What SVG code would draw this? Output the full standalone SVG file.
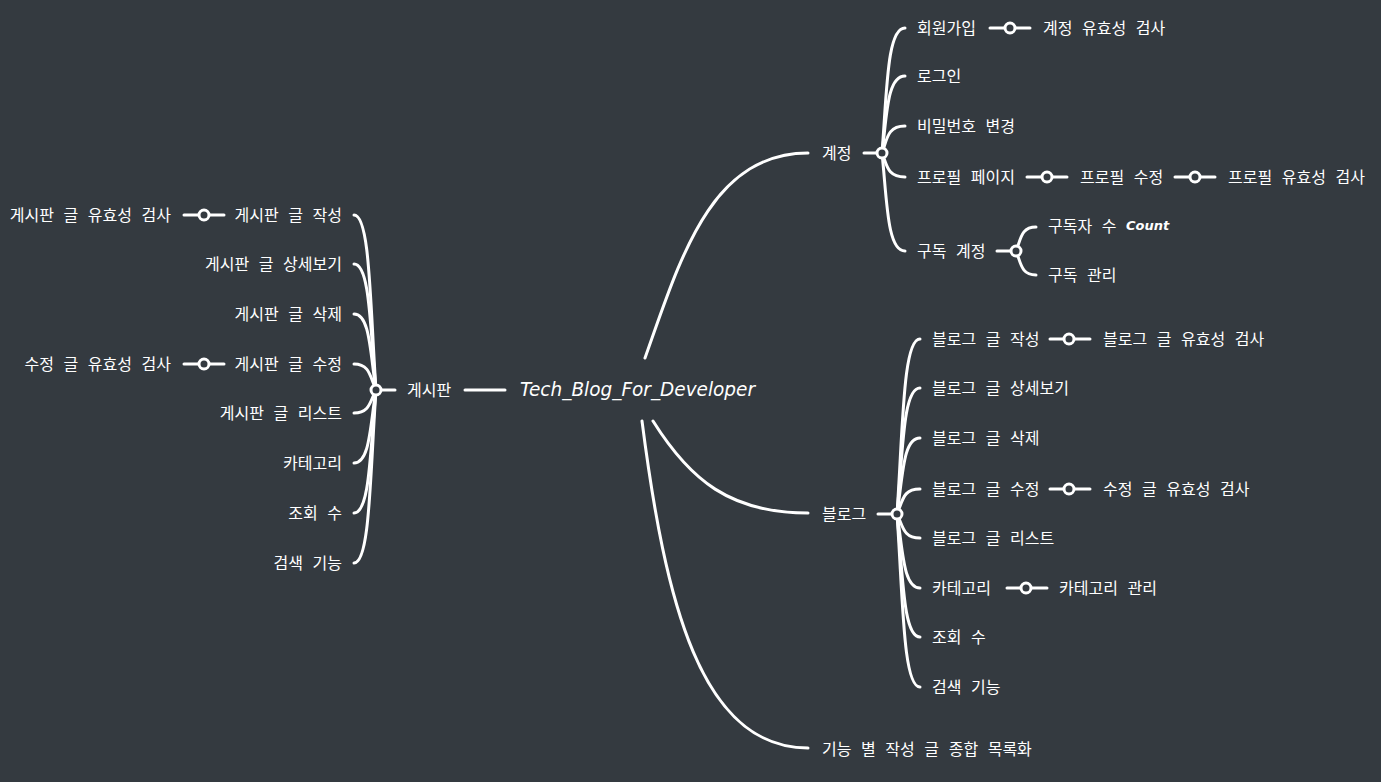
<svg xmlns="http://www.w3.org/2000/svg" width="1381" height="782" viewBox="0 0 1381 782">
<style>
.ln{fill:none;stroke:#fff;stroke-width:3;stroke-linecap:round}
.dot{fill:#343a40;stroke:#fff;stroke-width:3}
.t{font-family:"Noto Sans CJK KR","Noto Sans",sans-serif;font-size:16px;fill:#fff;word-spacing:6px;dominant-baseline:central}
.e{text-anchor:end}
.hand{font-family:"DejaVu Sans","Noto Sans",sans-serif;font-style:italic;fill:#fff}
</style>
<rect width="1381" height="782" fill="#343a40"/>
<g id="connectors">
<path class="ln" d="M465,390 L505,390"/>
<path class="ln" d="M645,358 C680,260 710,153 808,153"/>
<path class="ln" d="M653,421 C690,480 730,513 808,513"/>
<path class="ln" d="M642,421 C665,600 700,748 808,748"/>
<path class="ln" d="M864,153 L882,153"/>
<path class="ln" d="M882,153 C887,90 887,28 905,28"/>
<path class="ln" d="M882,153 C887,115 887,76 905,76"/>
<path class="ln" d="M882,153 C887,140 887,126 905,126"/>
<path class="ln" d="M882,153 C887,165 887,177 905,177"/>
<path class="ln" d="M882,153 C887,200 887,251 905,251"/>
<path class="ln" d="M990,28 L1030,28"/>
<path class="ln" d="M1027,177 L1067,177"/>
<path class="ln" d="M1175,177 L1215,177"/>
<path class="ln" d="M997,251 L1016,251"/>
<path class="ln" d="M1016,251 C1021,239 1021,227 1036,227"/>
<path class="ln" d="M1016,251 C1021,263 1021,275 1036,275"/>
<path class="ln" d="M878,514 L897,514"/>
<path class="ln" d="M897,514 C903,426 903,339 920,339"/>
<path class="ln" d="M897,514 C903,450 903,388 920,388"/>
<path class="ln" d="M897,514 C903,475 903,438 920,438"/>
<path class="ln" d="M897,514 C903,500 903,489 920,489"/>
<path class="ln" d="M897,514 C903,526 903,538 920,538"/>
<path class="ln" d="M897,514 C903,550 903,588 920,588"/>
<path class="ln" d="M897,514 C903,575 903,637 920,637"/>
<path class="ln" d="M897,514 C903,600 903,687 920,687"/>
<path class="ln" d="M1050,339 L1090,339"/>
<path class="ln" d="M1050,489 L1090,489"/>
<path class="ln" d="M1007,588 L1047,588"/>
<path class="ln" d="M376,390 L395,390"/>
<path class="ln" d="M376,390 C370,302 370,215 354,215"/>
<path class="ln" d="M376,390 C370,327 370,264 354,264"/>
<path class="ln" d="M376,390 C370,352 370,314 354,314"/>
<path class="ln" d="M376,390 C370,377 370,364 354,364"/>
<path class="ln" d="M376,390 C370,401 370,413 354,413"/>
<path class="ln" d="M376,390 C370,426 370,463 354,463"/>
<path class="ln" d="M376,390 C370,451 370,513 354,513"/>
<path class="ln" d="M376,390 C370,476 370,563 354,563"/>
<path class="ln" d="M184,215 L224,215"/>
<path class="ln" d="M184,364 L224,364"/>
</g>
<g id="root"><text class="hand" x="520" y="396" font-size="20" textLength="235" lengthAdjust="spacingAndGlyphs">Tech_Blog_For_Developer</text></g>
<g id="n-account">
<text class="t" x="822" y="152">계정</text>
<circle class="dot" cx="882" cy="153" r="5"/>
</g>
<g id="n-signup"><text class="t" x="917" y="27">회원가입</text><circle class="dot" cx="1010" cy="28" r="5"/></g>
<g id="n-signup-valid"><text class="t" x="1043" y="27">계정 유효성 검사</text></g>
<g id="n-login"><text class="t" x="917" y="75">로그인</text></g>
<g id="n-pw"><text class="t" x="917" y="125">비밀번호 변경</text></g>
<g id="n-profile"><text class="t" x="917" y="176">프로필 페이지</text><circle class="dot" cx="1047" cy="177" r="5"/></g>
<g id="n-profile-edit"><text class="t" x="1080" y="176">프로필 수정</text><circle class="dot" cx="1195" cy="177" r="5"/></g>
<g id="n-profile-valid"><text class="t" x="1228" y="176">프로필 유효성 검사</text></g>
<g id="n-sub"><text class="t" x="917" y="250">구독 계정</text><circle class="dot" cx="1016" cy="251" r="5"/></g>
<g id="n-sub-count"><text class="t" x="1048" y="225">구독자 수 <tspan class="hand" font-weight="bold" font-size="13">Count</tspan></text></g>
<g id="n-sub-manage"><text class="t" x="1048" y="274">구독 관리</text></g>
<g id="n-blog">
<text class="t" x="822" y="513">블로그</text>
<circle class="dot" cx="897" cy="514" r="5"/>
</g>
<g id="n-b-write"><text class="t" x="932" y="338">블로그 글 작성</text><circle class="dot" cx="1069" cy="339" r="5"/></g>
<g id="n-b-write-valid"><text class="t" x="1103" y="338">블로그 글 유효성 검사</text></g>
<g id="n-b-detail"><text class="t" x="932" y="387">블로그 글 상세보기</text></g>
<g id="n-b-del"><text class="t" x="932" y="437">블로그 글 삭제</text></g>
<g id="n-b-edit"><text class="t" x="932" y="488">블로그 글 수정</text><circle class="dot" cx="1069" cy="489" r="5"/></g>
<g id="n-b-edit-valid"><text class="t" x="1103" y="488">수정 글 유효성 검사</text></g>
<g id="n-b-list"><text class="t" x="932" y="537">블로그 글 리스트</text></g>
<g id="n-b-cat"><text class="t" x="932" y="587">카테고리</text><circle class="dot" cx="1026" cy="588" r="5"/></g>
<g id="n-b-cat-manage"><text class="t" x="1059" y="587">카테고리 관리</text></g>
<g id="n-b-views"><text class="t" x="932" y="636">조회 수</text></g>
<g id="n-b-search"><text class="t" x="932" y="686">검색 기능</text></g>
<g id="n-catalog"><text class="t" x="822" y="748">기능 별 작성 글 종합 목록화</text></g>
<g id="n-board">
<text class="t" x="407" y="389">게시판</text>
<circle class="dot" cx="376" cy="390" r="5"/>
</g>
<g id="n-g-write"><text class="t e" x="342" y="214">게시판 글 작성</text><circle class="dot" cx="204" cy="215" r="5"/></g>
<g id="n-g-write-valid"><text class="t e" x="171" y="214">게시판 글 유효성 검사</text></g>
<g id="n-g-detail"><text class="t e" x="342" y="263">게시판 글 상세보기</text></g>
<g id="n-g-del"><text class="t e" x="342" y="313">게시판 글 삭제</text></g>
<g id="n-g-edit"><text class="t e" x="342" y="363">게시판 글 수정</text><circle class="dot" cx="204" cy="364" r="5"/></g>
<g id="n-g-edit-valid"><text class="t e" x="171" y="363">수정 글 유효성 검사</text></g>
<g id="n-g-list"><text class="t e" x="342" y="412">게시판 글 리스트</text></g>
<g id="n-g-cat"><text class="t e" x="342" y="462">카테고리</text></g>
<g id="n-g-views"><text class="t e" x="342" y="512">조회 수</text></g>
<g id="n-g-search"><text class="t e" x="342" y="562">검색 기능</text></g>
</svg>
